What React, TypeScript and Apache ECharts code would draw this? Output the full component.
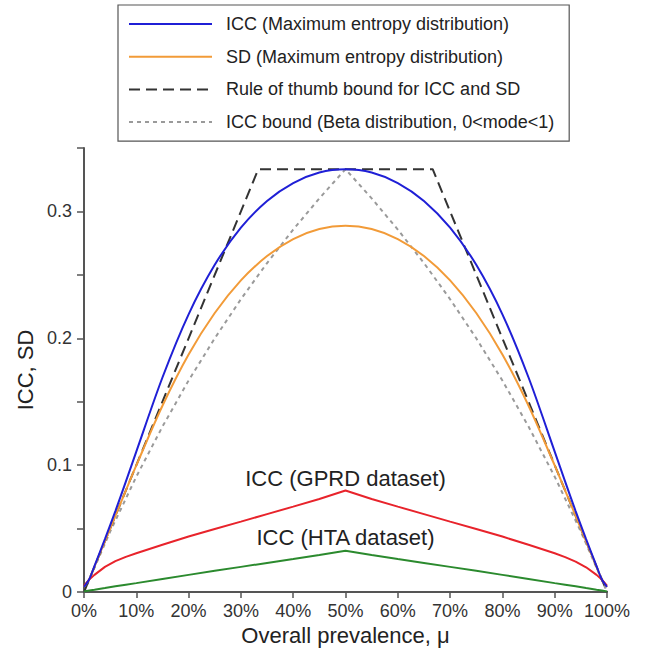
import React, { useEffect, useRef } from "react";
import * as echarts from "echarts";

// Overall prevalence (x) sample points
const mu = [0, 0.01, 0.02, 0.04, 0.06, 0.08, 0.1, 0.15, 0.2, 0.25, 0.3, 0.35, 0.4, 0.45, 0.5,
  0.55, 0.6, 0.65, 0.7, 0.75, 0.8, 0.85, 0.9, 0.92, 0.94, 0.96, 0.98, 0.99, 1];

// ICC (Maximum entropy distribution)
const iccMaxEnt = [0.004, 0.0101, 0.0204, 0.0417, 0.0638, 0.087, 0.1107, 0.1691, 0.2189, 0.2579, 0.2872, 0.3083, 0.3224, 0.3307, 0.3333,
  0.3307, 0.3224, 0.3083, 0.2872, 0.2579, 0.2189, 0.1691, 0.1107, 0.087, 0.0638, 0.0417, 0.0204, 0.0101, 0.004];

// SD (Maximum entropy distribution)
const sdMaxEnt = [0.004, 0.01, 0.02, 0.04, 0.06, 0.08, 0.0998, 0.1468, 0.1872, 0.2199, 0.2456, 0.2648, 0.2782, 0.2861, 0.2887,
  0.2861, 0.2782, 0.2648, 0.2456, 0.2199, 0.1872, 0.1468, 0.0998, 0.08, 0.06, 0.04, 0.02, 0.01, 0.004];

// ICC (GPRD dataset)
const iccGprd = [0.005, 0.0098, 0.0135, 0.0198, 0.0243, 0.0277, 0.0305, 0.0372, 0.0437, 0.0497, 0.0555, 0.0614, 0.0673, 0.0733, 0.08,
  0.0733, 0.0673, 0.0614, 0.0555, 0.0497, 0.0437, 0.0372, 0.0305, 0.0275, 0.024, 0.0195, 0.0135, 0.0098, 0.005];

// ICC (HTA dataset)
const iccHta = [0.0005, 0.0012, 0.0018, 0.0031, 0.0045, 0.0058, 0.007, 0.0103, 0.0135, 0.0167, 0.0198, 0.0229, 0.026, 0.0292, 0.0325,
  0.0292, 0.026, 0.0229, 0.0198, 0.0167, 0.0135, 0.0103, 0.007, 0.0058, 0.0045, 0.0031, 0.0018, 0.0012, 0.0005];

// Rule of thumb bound for ICC and SD
const thumbX = [0, 0.3333, 0.6667, 1];
const thumbY = [0, 0.3333, 0.3333, 0];

// ICC bound (Beta distribution, 0<mode<1)
const betaX = [0, 0.05, 0.1, 0.15, 0.2, 0.25, 0.3, 0.35, 0.4, 0.45, 0.5, 0.55, 0.6, 0.65, 0.7, 0.75, 0.8, 0.85, 0.9, 0.95, 1];
const betaY = [0, 0.0476, 0.0909, 0.1304, 0.1667, 0.2, 0.2308, 0.2593, 0.2857, 0.3103, 0.3333,
  0.3103, 0.2857, 0.2593, 0.2308, 0.2, 0.1667, 0.1304, 0.0909, 0.0476, 0];

// Annotation positions (data coordinates)
const gprdLabel = { text: "ICC (GPRD dataset)", x: 0.5, y: 0.0892 };
const htaLabel = { text: "ICC (HTA dataset)", x: 0.5, y: 0.0426 };

const legendNames = [
  "ICC (Maximum entropy distribution)",
  "SD (Maximum entropy distribution)",
  "Rule of thumb bound for ICC and SD",
  "ICC bound (Beta distribution, 0<mode<1)",
];

const FONT = "'Liberation Sans', Arial, Helvetica, sans-serif";

function pairs(xs: number[], ys: number[]) {
  return xs.map((x, i) => [x, ys[i]]);
}

export default function App() {
  const ref = useRef<HTMLDivElement>(null);
  useEffect(() => {
    if (!ref.current) return;
    const chart = echarts.init(ref.current, null, { renderer: "svg" });
    const annot = (a: { text: string; x: number; y: number }) => ({
      symbol: "rect",
      symbolSize: 1,
      silent: true,
      itemStyle: { color: "rgba(0,0,0,0)" },
      label: {
        show: true,
        position: "inside",
        formatter: a.text,
        fontSize: 22,
        fontFamily: FONT,
        color: "#222",
      },
      data: [{ coord: [a.x, a.y] }],
    });
    chart.setOption({
      animation: false,
      backgroundColor: "#fff",
      textStyle: { fontFamily: FONT },
      grid: { left: 84, right: 38, top: 148, bottom: 61, containLabel: false },
      legend: {
        data: legendNames,
        orient: "vertical",
        left: 118,
        top: 5,
        padding: [10, 15, 10, 10],
        borderColor: "#555",
        borderWidth: 1.2,
        itemWidth: 83,
        itemHeight: 14,
        itemGap: 14.7,
        selectedMode: false,
        itemStyle: { opacity: 0 },
        textStyle: { fontSize: 18, fontFamily: FONT, color: "#222", padding: [0, 0, 0, 9] },
      },
      xAxis: {
        type: "value",
        min: 0,
        max: 1,
        interval: 0.1,
        name: "Overall prevalence, μ",
        nameLocation: "middle",
        nameGap: 29,
        nameTextStyle: { fontSize: 22, color: "#222", fontFamily: FONT },
        axisLine: { show: true, onZero: false, lineStyle: { color: "#555", width: 2 } },
        axisTick: { show: true, inside: false, length: 6, lineStyle: { color: "#555", width: 1.5 } },
        axisLabel: {
          fontSize: 18,
          color: "#333",
          margin: 10,
          fontFamily: FONT,
          formatter: (v: number) => Math.round(v * 100) + "%",
        },
        splitLine: { show: false },
      },
      yAxis: {
        type: "value",
        min: 0,
        max: 0.35,
        interval: 0.05,
        name: "ICC, SD",
        nameLocation: "middle",
        nameGap: 46,
        nameTextStyle: { fontSize: 22, color: "#222", fontFamily: FONT },
        axisLine: { show: true, onZero: false, lineStyle: { color: "#555", width: 2 } },
        axisTick: { show: true, inside: false, length: 7, lineStyle: { color: "#555", width: 1.5 } },
        axisLabel: {
          fontSize: 18,
          color: "#333",
          margin: 12,
          fontFamily: FONT,
          formatter: (v: number) => {
            const t = v * 10;
            if (Math.abs(t - Math.round(t)) > 1e-6) return "";
            return v === 0 ? "0" : v.toFixed(1);
          },
        },
        splitLine: { show: false },
      },
      series: [
        {
          name: legendNames[0],
          type: "line",
          data: pairs(mu, iccMaxEnt),
          smooth: 0.3,
          showSymbol: false,
          symbol: "none",
          lineStyle: { color: "#1f1fd6", width: 2 },
          itemStyle: { color: "#1f1fd6" },
          z: 5,
        },
        {
          name: legendNames[1],
          type: "line",
          data: pairs(mu, sdMaxEnt),
          smooth: 0.3,
          showSymbol: false,
          symbol: "none",
          lineStyle: { color: "#f29b38", width: 2 },
          itemStyle: { color: "#f29b38" },
          z: 4,
        },
        {
          name: legendNames[2],
          type: "line",
          data: pairs(thumbX, thumbY),
          showSymbol: false,
          symbol: "none",
          lineStyle: { color: "#333", width: 2, type: [11, 6] },
          itemStyle: { color: "#333" },
          z: 3,
        },
        {
          name: legendNames[3],
          type: "line",
          data: pairs(betaX, betaY),
          showSymbol: false,
          symbol: "none",
          lineStyle: { color: "#9a9a9a", width: 2, type: [4, 4] },
          itemStyle: { color: "#9a9a9a" },
          z: 2,
        },
        {
          name: "ICC (GPRD dataset)",
          type: "line",
          data: pairs(mu, iccGprd),
          showSymbol: false,
          symbol: "none",
          lineStyle: { color: "#e8232b", width: 2 },
          itemStyle: { color: "#e8232b" },
          markPoint: annot(gprdLabel),
          z: 4,
        },
        {
          name: "ICC (HTA dataset)",
          type: "line",
          data: pairs(mu, iccHta),
          showSymbol: false,
          symbol: "none",
          lineStyle: { color: "#2b8a2e", width: 2 },
          itemStyle: { color: "#2b8a2e" },
          markPoint: annot(htaLabel),
          z: 4,
        },
      ],
    });
    return () => chart.dispose();
  }, []);
  return (
    <div
      ref={ref}
      style={{ position: "absolute", left: 0, top: 0, width: 645, height: 653, background: "#fff" }}
    />
  );
}
